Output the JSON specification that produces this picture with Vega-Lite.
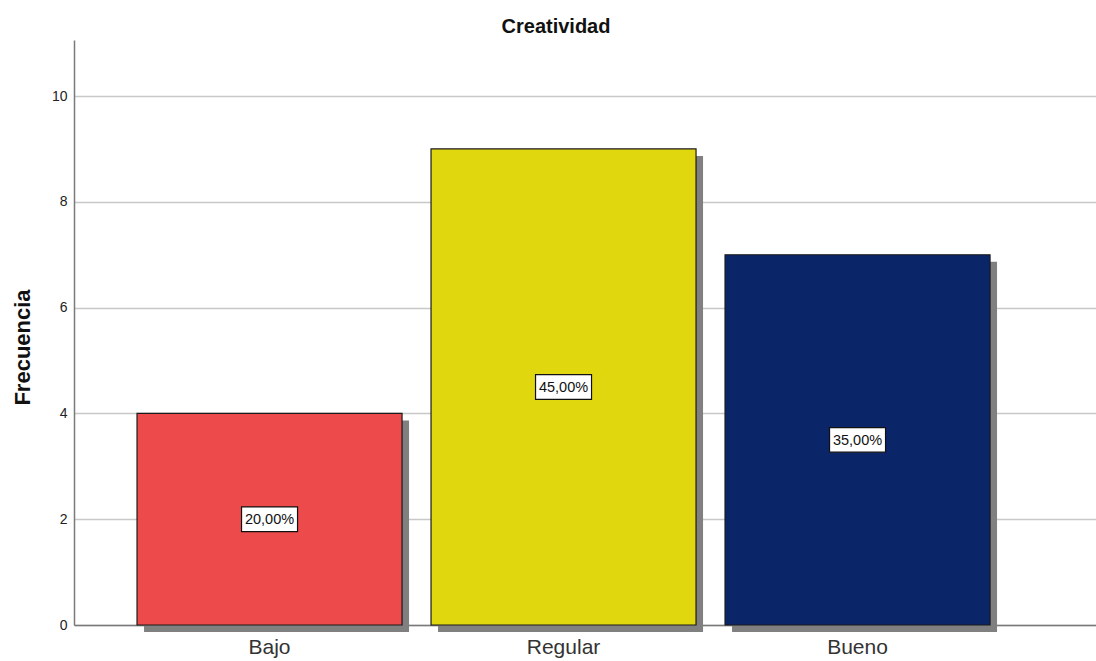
{
  "$schema": "https://vega.github.io/schema/vega-lite/v6.json",
  "autosize": {"type": "none"},
  "width": 1022,
  "height": 585,
  "padding": {"left": 74, "top": 40, "right": 0, "bottom": 36},
  "background": "white",
  "config": {
    "font": "Liberation Sans",
    "view": {"stroke": null},
    "locale": {"number": {"decimal": ",", "thousands": ".", "grouping": [3], "currency": ["", " €"]}}
  },
  "title": {
    "text": "Creatividad",
    "fontSize": 20,
    "fontWeight": "bold",
    "color": "#111111",
    "anchor": "middle",
    "frame": "group",
    "baseline": "alphabetic",
    "offset": 8,
    "dx": -29,
    "dy": 21
  },
  "data": {
    "values": [
      {"nivel": "Bajo", "n": 4, "pct": 0.20},
      {"nivel": "Regular", "n": 9, "pct": 0.45},
      {"nivel": "Bueno", "n": 7, "pct": 0.35}
    ]
  },
  "encoding": {
    "x": {
      "field": "nivel",
      "type": "nominal",
      "sort": ["Bajo", "Regular", "Bueno"],
      "scale": {"paddingInner": 0.0986, "paddingOuter": 0.2874, "align": 0.373},
      "axis": {
        "title": null,
        "labelAngle": 0,
        "labelFontSize": 21,
        "labelColor": "#333333",
        "labelPadding": 11,
        "ticks": false,
        "domainColor": "#7a7a7a",
        "domainWidth": 1.5,
        "grid": false
      }
    }
  },
  "layer": [
    {
      "mark": {"type": "bar", "color": "#808080", "xOffset": 7, "yOffset": 7, "opacity": 1},
      "encoding": {
        "y": {
          "field": "n",
          "type": "quantitative",
          "scale": {"domain": [0, 11.06], "nice": false},
          "axis": {
            "values": [0, 2, 4, 6, 8, 10],
            "title": "Frecuencia",
            "titleFontSize": 22,
            "titleFontWeight": "bold",
            "titleColor": "#111111",
            "titleAngle": -90,
            "titleAlign": "center",
            "titleBaseline": "middle",
            "titleX": -52,
            "titleY": 307,
            "labelFontSize": 14,
            "labelColor": "#222222",
            "labelPadding": 7,
            "ticks": false,
            "domainColor": "#7a7a7a",
            "domainWidth": 1.5,
            "gridColor": "#c8c8c8",
            "gridWidth": 1.5
          }
        }
      }
    },
    {
      "mark": {"type": "bar", "stroke": "#1a1a1a", "strokeWidth": 1.2},
      "encoding": {
        "y": {"field": "n", "type": "quantitative"},
        "color": {
          "field": "nivel",
          "type": "nominal",
          "legend": null,
          "scale": {"domain": ["Bajo", "Regular", "Bueno"], "range": ["#ec4a4b", "#e1d70f", "#0b2569"]}
        }
      }
    },
    {
      "transform": [{"calculate": "datum.n / 2", "as": "mitad"}],
      "mark": {
        "type": "point",
        "shape": "M-1,-0.44L1,-0.44L1,0.44L-1,0.44Z",
        "size": 3136,
        "filled": true,
        "fill": "white",
        "stroke": "#111111",
        "strokeWidth": 1.2,
        "opacity": 1
      },
      "encoding": {"y": {"field": "mitad", "type": "quantitative"}}
    },
    {
      "transform": [{"calculate": "datum.n / 2", "as": "mitad"}],
      "mark": {"type": "text", "fontSize": 14.5, "color": "#111111", "baseline": "middle", "align": "center", "dy": 1},
      "encoding": {
        "y": {"field": "mitad", "type": "quantitative"},
        "text": {"field": "pct", "type": "quantitative", "format": ".2%"}
      }
    }
  ]
}
